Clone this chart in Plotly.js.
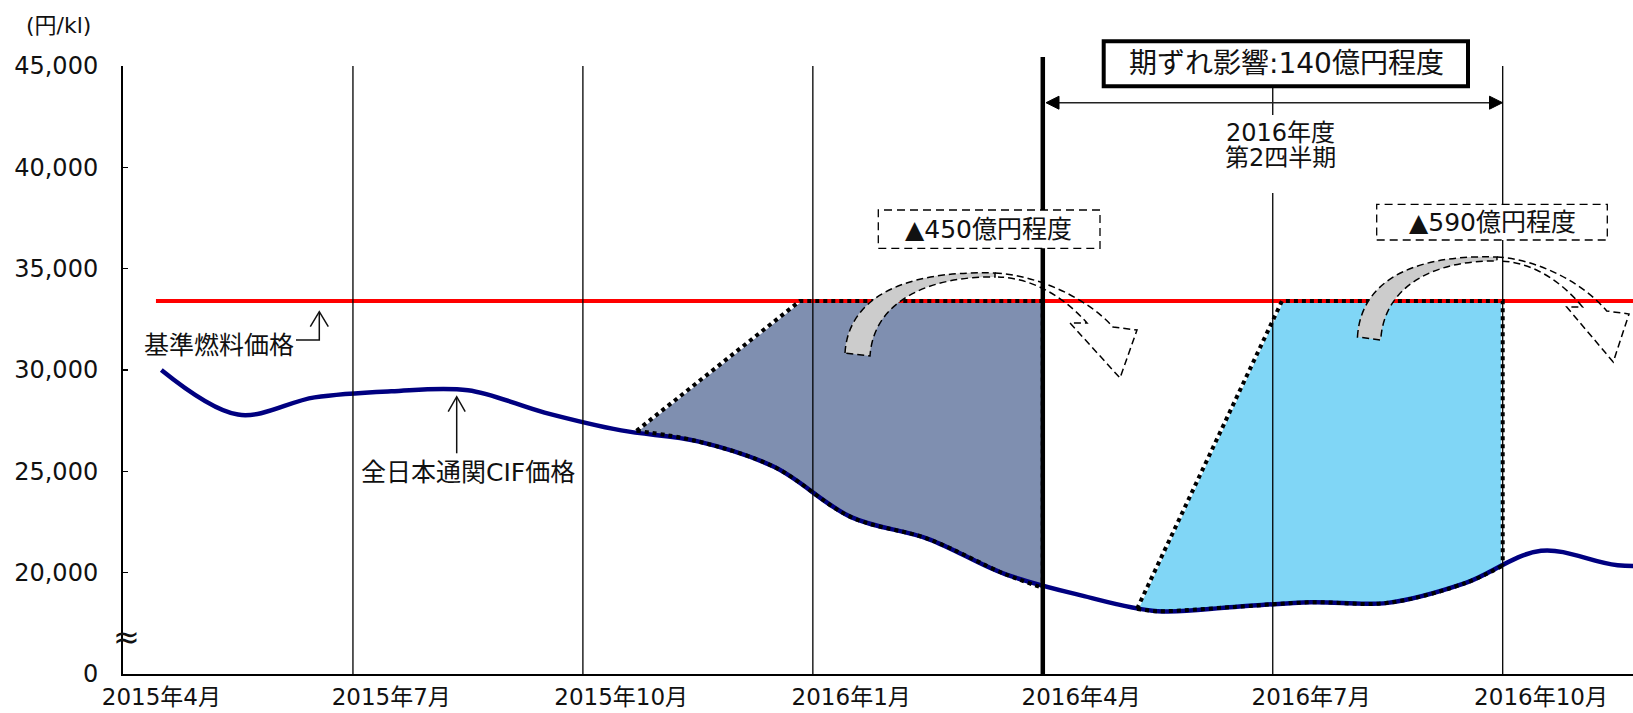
<!DOCTYPE html>
<html>
<head>
<meta charset="utf-8">
<script src="https://cdn.plot.ly/plotly-3.0.1.min.js"></script>
<style>
  html, body { margin: 0; padding: 0; background: #fff; }
  #chart { width: 1633px; height: 713px; }
</style>
</head>
<body>
<div id="chart"></div>
<script>
// Monthly CIF crude price (yen/kl), plotted at mid-month; month 0 = April 2015
const months   = [0.5, 1.5, 2.5, 3.5, 4.5, 5.5, 6.5, 7.5, 8.5, 9.5, 10.5, 11.5, 12.5, 13.5, 14.5, 15.5, 16.5, 17.5, 18.5, 19.5, 20.5];
const cifPrice = [30000, 27800, 28650, 28950, 29000, 27900, 27020, 26480, 25210, 22740, 21670, 19940, 18880, 18100, 18310, 18540, 18510, 19470, 21080, 20370, 20400];

// Reference fuel price line
const baseX = [0.43, 19.7];
const basePrice = 33400;

// Axis ticks
const labelMonths = [0.5, 3.5, 6.5, 9.5, 12.5, 15.5, 18.5];
const labelText = ['2015年4月', '2015年7月', '2015年10月', '2016年1月', '2016年4月', '2016年7月', '2016年10月'];
const gridMonths = [3, 6, 9, 15, 18];
const fiscalBreak = 12;
const yTickVals = [15000, 20000, 25000, 30000, 35000, 40000, 45000];
const yTickText = ['0', '20,000', '25,000', '30,000', '35,000', '40,000', '45,000'];

// Shortfall areas: edge months and edge prices
const q4Months = [6.7, 8.83, 12];          // start on curve, reaches base price, period end
const q4EdgePrice = [27000, 19250];        // price at start / at period end
const q2Months = [13.23, 15.0, 15.12, 18]; // start on curve, bend, reaches base price, period end
const q2EdgePrice = [18220, 32365, 20350]; // price at start / at bend / at period end

// Plot geometry
const L = 123, T = 66, W = 1510, H = 608;
const XR = [0, 19.7], YR = [15000, 45000];
const xAt = px => XR[0] + (px - L) / W * (XR[1] - XR[0]);
const yAt = py => YR[1] - (py - T) / H * (YR[1] - YR[0]);
const pX = px => (px - L) / W;
const pY = py => (T + H - py) / H;

const FONT = "'DejaVu Sans', 'Noto Sans CJK JP', sans-serif";
const DARK_FILL = '#7f8fb0';
const BLUE_FILL = '#80d6f6';
const NAVY = '#000080';

function curveBetween(x0, x1) {
  const xs = [], ys = [];
  months.forEach((m, i) => { if (m > x0 + 0.1 && m < x1 - 0.1) { xs.push(m); ys.push(cifPrice[i]); } });
  return { xs, ys };
}

// Q4 (Jan–Mar 2016) area
const q4In = curveBetween(q4Months[0], q4Months[2]);
const q4LowX = [q4Months[0], ...q4In.xs, q4Months[2]];
const q4LowY = [q4EdgePrice[0], ...q4In.ys, q4EdgePrice[1]];
const q4TopX = [q4Months[0], q4Months[1], q4Months[2], q4Months[2]];
const q4TopY = [q4EdgePrice[0], basePrice, basePrice, q4EdgePrice[1]];

// Q2 (Jul–Sep 2016) area
const q2In = curveBetween(q2Months[0], q2Months[3]);
const q2LowX = [q2Months[0], ...q2In.xs, q2Months[3]];
const q2LowY = [q2EdgePrice[0], ...q2In.ys, q2EdgePrice[2]];
const q2TopX = [q2Months[0], q2Months[1], q2Months[2], q2Months[3], q2Months[3]];
const q2TopY = [q2EdgePrice[0], q2EdgePrice[1], basePrice, basePrice, q2EdgePrice[2]];

const none = { width: 0 };
const dotted = () => ({ color: '#000', width: 4, dash: '4px,4px' });
const halo = () => ({ color: '#ffffff', width: 3 });

const traces = [
  { x: q4LowX, y: q4LowY, mode: 'lines', line: Object.assign({ shape: 'spline' }, none), hoverinfo: 'skip' },
  { x: q4TopX, y: q4TopY, mode: 'lines', line: none, fill: 'tonexty', fillcolor: DARK_FILL, hoverinfo: 'skip' },
  { x: q2LowX, y: q2LowY, mode: 'lines', line: Object.assign({ shape: 'spline' }, none), hoverinfo: 'skip' },
  { x: q2TopX, y: q2TopY, mode: 'lines', line: none, fill: 'tonexty', fillcolor: BLUE_FILL, hoverinfo: 'skip' },
  // light halo under the dotted outlines
  { x: q4TopX, y: q4TopY, mode: 'lines', line: halo(), hoverinfo: 'skip' },
  { x: q2TopX, y: q2TopY, mode: 'lines', line: halo(), hoverinfo: 'skip' },
  { x: baseX, y: [basePrice, basePrice], mode: 'lines', line: { color: '#ff0000', width: 4 }, name: '基準燃料価格' },
  { x: months, y: cifPrice, mode: 'lines', line: { color: NAVY, width: 4.5, shape: 'spline' }, name: '全日本通関CIF価格' },
  // dotted outlines of the two areas
  { x: q4LowX, y: q4LowY, mode: 'lines', line: Object.assign({ shape: 'spline' }, dotted()), hoverinfo: 'skip' },
  { x: q4TopX, y: q4TopY, mode: 'lines', line: dotted(), hoverinfo: 'skip' },
  { x: q2LowX, y: q2LowY, mode: 'lines', line: Object.assign({ shape: 'spline' }, dotted()), hoverinfo: 'skip' },
  { x: q2TopX, y: q2TopY, mode: 'lines', line: dotted(), hoverinfo: 'skip' }
];

// ---------- decorations ----------
const shapes = [];

gridMonths.forEach(m => shapes.push({
  type: 'line', layer: 'above', xref: 'x', yref: 'paper', x0: m, x1: m, y0: 0, y1: 1,
  line: { color: '#000', width: 1.3 }
}));
shapes.push({
  type: 'line', layer: 'above', xref: 'x', yref: 'paper', x0: fiscalBreak, x1: fiscalBreak, y0: 0, y1: pY(57),
  line: { color: '#000', width: 4.5 }
});

function pxRect(x0, y0, x1, y1, fill, line) {
  return { type: 'rect', layer: 'above', xref: 'paper', yref: 'paper',
    x0: pX(x0), x1: pX(x1), y0: pY(y1), y1: pY(y0), fillcolor: fill, line: line };
}
function pxPath(pts, close) {
  return pts.map((p, i) => (i === 0 ? 'M ' : 'L ') + xAt(p[0]) + ',' + yAt(p[1]) + ' ').join('') + (close ? 'Z' : '');
}
function pathShape(d, fill, line) {
  return { type: 'path', layer: 'above', xref: 'x', yref: 'y', path: d, fillcolor: fill, line: line };
}

// white backing under the period caption
shapes.push(pxRect(1212, 115, 1348, 193, '#fff', { width: 0 }));
// headline box
shapes.push(pxRect(1103.7, 41.3, 1468, 86.3, '#fff', { color: '#000', width: 4 }));
// dashed value boxes
const dashBox = { color: '#000', width: 1.3, dash: '8px,5px' };
shapes.push(pxRect(878.3, 210, 1100, 248.3, '#fff', dashBox));
shapes.push(pxRect(1376.7, 204.3, 1607.3, 240, '#fff', dashBox));

// double-headed span arrow
const spanY = 102.7, spanL = 1046, spanR = 1502.5;
shapes.push(pathShape(pxPath([[spanL + 10, spanY], [spanR - 10, spanY]]), 'rgba(0,0,0,0)', { color: '#222', width: 1.5 }));
shapes.push(pathShape(pxPath([[spanL, spanY], [spanL + 13, spanY - 6.5], [spanL + 13, spanY + 6.5]], true), '#000', { color: '#000', width: 1 }));
shapes.push(pathShape(pxPath([[spanR, spanY], [spanR - 13, spanY - 6.5], [spanR - 13, spanY + 6.5]], true), '#000', { color: '#000', width: 1 }));

// ribbon arrows (grey rising half, hollow falling half with head)
function ribbon(ax, ay, sx) {
  const P = (dx, dy) => xAt(ax + dx * sx) + ',' + yAt(ay + dy);
  const grey = `M ${P(-121, 81)} C ${P(-118, 30)} ${P(-70, -2)} ${P(29, 1)} L ${P(29, 5)} C ${P(-30, 4)} ${P(-92, 25)} ${P(-96, 84)} Z`;
  const hollow = `M ${P(29, 1)} C ${P(70, 3)} ${P(120, 25)} ${P(147, 55)} L ${P(171, 58)} L ${P(154, 106)} L ${P(104, 51)} L ${P(121, 51)} C ${P(97, 24)} ${P(66, 6)} ${P(32, 5)}`;
  const edge = { color: '#000', width: 1.5, dash: '7px,4px' };
  shapes.push(pathShape(grey, '#cccccc', edge));
  shapes.push(pathShape(hollow, 'rgba(0,0,0,0)', edge));
}
ribbon(966, 272, 1.0);
ribbon(1470, 256, 0.93);

// pointer to the reference price line
const thin = { color: '#111', width: 1.5 };
shapes.push(pathShape(pxPath([[296, 340], [319.3, 340], [319.3, 312.5]]), 'rgba(0,0,0,0)', thin));
shapes.push(pathShape(pxPath([[310.3, 326.7], [319.3, 311.7], [328.3, 326.7]]), 'rgba(0,0,0,0)', thin));
// pointer to the CIF line
shapes.push(pathShape(pxPath([[456.7, 453.3], [456.7, 397.5]]), 'rgba(0,0,0,0)', thin));
shapes.push(pathShape(pxPath([[448.2, 411.7], [456.7, 396.7], [465.2, 411.7]]), 'rgba(0,0,0,0)', thin));

function note(text, px, py, size, extra) {
  return Object.assign({
    text: text, xref: 'paper', yref: 'paper', x: pX(px), y: pY(py),
    xanchor: 'center', yanchor: 'middle', showarrow: false,
    font: { family: FONT, size: size, color: '#111' }
  }, extra || {});
}

const annotations = [
  note('(円/kl)', 58, 26, 22),
  note('基準燃料価格', 218.5, 345, 25),
  note('全日本通関CIF価格', 468, 472, 25),
  note('期ずれ影響:140億円程度', 1286, 64, 28),
  note('2016年度', 1280, 133, 24),
  note('第2四半期', 1280, 158, 24),
  note('▲450億円程度', 989, 229.5, 25),
  note('▲590億円程度', 1492, 222.5, 25),
  note('≈', 126, 637, 32)
];

const layout = {
  width: 1633, height: 713,
  margin: { l: L, r: 0, t: T, b: 713 - T - H },
  paper_bgcolor: '#fff', plot_bgcolor: '#fff',
  showlegend: false,
  font: { family: FONT, color: '#111' },
  xaxis: {
    range: XR, showgrid: false, zeroline: false,
    showline: true, linecolor: '#000', linewidth: 2,
    ticks: '', tickmode: 'array', tickvals: labelMonths, ticktext: labelText,
    tickfont: { family: FONT, size: 23, color: '#111' },
    ticklabelstandoff: 1, fixedrange: true
  },
  yaxis: {
    range: YR, showgrid: false, zeroline: false,
    showline: true, linecolor: '#000', linewidth: 2,
    ticks: 'inside', ticklen: 5, tickwidth: 1.5, tickcolor: '#000',
    tickmode: 'array', tickvals: yTickVals, ticktext: yTickText,
    tickfont: { family: FONT, size: 24, color: '#111' },
    ticklabelstandoff: 18, fixedrange: true
  },
  shapes: shapes,
  annotations: annotations
};

Plotly.newPlot('chart', traces, layout, { displayModeBar: false, staticPlot: true });
</script>
</body>
</html>
